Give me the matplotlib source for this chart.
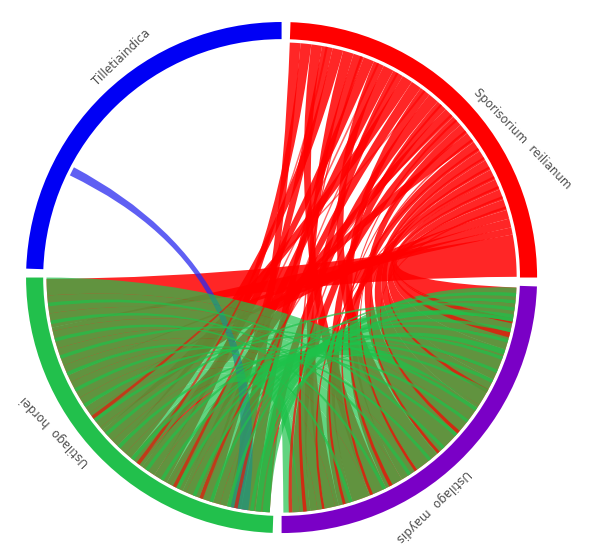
import numpy as np
import matplotlib
matplotlib.use("Agg")
import matplotlib.pyplot as plt
from matplotlib.patches import Wedge, PathPatch
from matplotlib.path import Path

#-------------------#
# Data
#-------------------#
# segments, clockwise from the top
names = ["Sporisorium  reilianum", "Ustilago  maydis", "Ustilago  hordei", "Tilletiaindica"]
ring_colors = ["#ff0000", "#7a00c6", "#22c04c", "#0000f5"]
link_colors = ["#ff0000", "#7a00c6", "#1ec24a", "#2a2af0"]
lengths = [100, 100, 100, 100]

# links: (src start, src end, dst start, dst end), positions along segment
red_to_hordei = [
    (0, 3, 9, 13), (3, 6, 31, 35), (9, 12, 17, 21), (12, 15, 43, 48),
    (18, 21, 5, 9), (21, 24, 35, 39), (27, 30, 21, 26), (33, 36, 48, 54),
    (36, 39, 13, 17), (42, 45, 1, 5), (48, 51, 26, 31), (57, 60, 39, 43),
    (81, 83.5, 54, 62), (83.5, 86, 62, 72), (86, 88, 72, 86), (88, 99.8, 86, 99.6),
]
red_to_maydis = [
    (6, 9, 70, 75), (15, 18, 84, 88), (24, 27, 53, 60), (30, 33, 88, 92),
    (39, 42, 60, 65), (45, 48, 75, 80), (51, 54, 92, 97), (54, 57, 45, 53),
    (60, 63, 65, 70), (63, 66, 36, 45), (66, 69, 27, 36), (69, 72, 80, 84),
    (72, 75, 18, 27), (75, 78, 9, 18), (78, 81, 0.5, 9),
]
tilletia_to_hordei = [(27, 29.5, 7, 12)]
hordei_to_maydis = [
    (95, 100, 35, 40), (90, 95, 40, 45), (85, 90, 45, 50), (80, 85, 50, 55),
    (75, 80, 55, 60), (70, 75, 60, 65), (65, 70, 65, 70), (60, 65, 70, 75),
    (55, 60, 75, 80), (50, 55, 80, 85), (45, 50, 85, 90), (40, 45, 90, 95),
    (35, 40, 30, 35), (30, 35, 25, 30), (25, 30, 20, 25), (20, 25, 15, 20),
    (15, 20, 10, 15), (10, 15, 5, 10), (5, 10, 0.5, 5), (1, 5, 95, 99.5),
]
red_to_hordei_thin = [
    (10, 10.6, 40, 41), (25, 25.6, 28, 29), (40, 40.6, 58, 59), (50, 50.6, 20, 21),
    (31, 31.6, 10, 11),
]
red_to_maydis_thin = [
    (52, 52.6, 68, 69), (56, 56.6, 74, 74.8), (59, 59.6, 60, 60.8), (62, 62.6, 82, 82.8),
    (65, 65.5, 52, 52.8), (68, 68.6, 88, 88.7), (71, 71.6, 9, 10.5), (74, 74.6, 13, 14.5),
    (77, 77.6, 30, 31), (80, 80.6, 44, 45), (46, 46.6, 97, 98), (20, 20.6, 93, 94),
]
hordei_to_maydis_thin = [
    (1, 3, 8, 10), (3.5, 5, 18, 19.5), (5.5, 6.5, 30, 31), (12, 13, 4, 5),
    (17, 18, 12, 13), (27, 28, 20, 21), (37, 38, 9, 10), (47, 48, 40, 41),
    (57, 58, 24, 25), (67, 68, 55, 56), (77, 78, 36, 37), (87, 88, 62, 63),
    (22, 23, 2, 3), (32, 33, 15, 16), (42, 43, 27, 28), (52, 53, 6, 7),
    (62, 63, 45, 46), (72, 73, 80, 81), (82, 83, 70, 71), (92, 93, 50, 51),
]

#-------------------#
# Layout
#-------------------#
seg_start = [88, -2, -92, 178]
seg_span = 88.0
r_out = 1.0
r_width = 0.067
r_link = 0.92


def ang(seg, pos):
    return seg_start[seg] - pos / lengths[seg] * seg_span


def pt(a, r):
    return (r * np.cos(np.radians(a)), r * np.sin(np.radians(a)))


def arc(a0, a1, r):
    t = np.radians(np.linspace(a0, a1, 30))
    return list(zip(r * np.cos(t), r * np.sin(t)))


def ribbon(ax, src, dst, link, color, alpha):
    s0, s1, d0, d1 = link
    a0, a1 = ang(src, s0), ang(src, s1)
    b0, b1 = ang(dst, d0), ang(dst, d1)
    verts = arc(a0, a1, r_link)
    codes = [Path.MOVETO] + [Path.LINETO] * (len(verts) - 1)
    verts += [(0, 0), pt(b0, r_link)]
    codes += [Path.CURVE3, Path.CURVE3]
    a = arc(b0, b1, r_link)[1:]
    verts += a
    codes += [Path.LINETO] * len(a)
    verts += [(0, 0), pt(a0, r_link)]
    codes += [Path.CURVE3, Path.CURVE3]
    ax.add_patch(PathPatch(Path(verts, codes), facecolor=color, edgecolor="none", alpha=alpha))


#-------------------#
# Plot
#-------------------#
fig = plt.figure(figsize=(6.02, 5.52), dpi=100)
ax = fig.add_axes([0, 0, 1, 1])
ax.set_xlim(-1.102, 1.254)
ax.set_ylim(-1.074, 1.086)
ax.set_aspect("equal")
ax.axis("off")

for i in range(4):
    ax.add_patch(Wedge((0, 0), r_out, seg_start[i] - seg_span, seg_start[i],
                       width=r_width, facecolor=ring_colors[i], edgecolor="none"))
    mid = seg_start[i] - seg_span / 2
    x, y = pt(mid, 1.03)
    ax.text(x, y, names[i], rotation=mid - 90, ha="left", va="bottom", fontsize=8.5,
            color="#505050", rotation_mode="anchor")

for l in red_to_hordei:
    ribbon(ax, 0, 2, l, link_colors[0], 0.85)
for l in red_to_maydis:
    ribbon(ax, 0, 1, l, link_colors[0], 0.85)
for l in tilletia_to_hordei:
    ribbon(ax, 3, 2, l, link_colors[3], 0.75)
for l in hordei_to_maydis:
    ribbon(ax, 2, 1, l, link_colors[2], 0.7)
for l in red_to_hordei_thin:
    ribbon(ax, 0, 2, l, link_colors[0], 0.6)
for l in red_to_maydis_thin:
    ribbon(ax, 0, 1, l, link_colors[0], 0.7)
for l in hordei_to_maydis_thin:
    ribbon(ax, 2, 1, l, link_colors[2], 0.7)

fig.savefig("out.png", dpi=100)
